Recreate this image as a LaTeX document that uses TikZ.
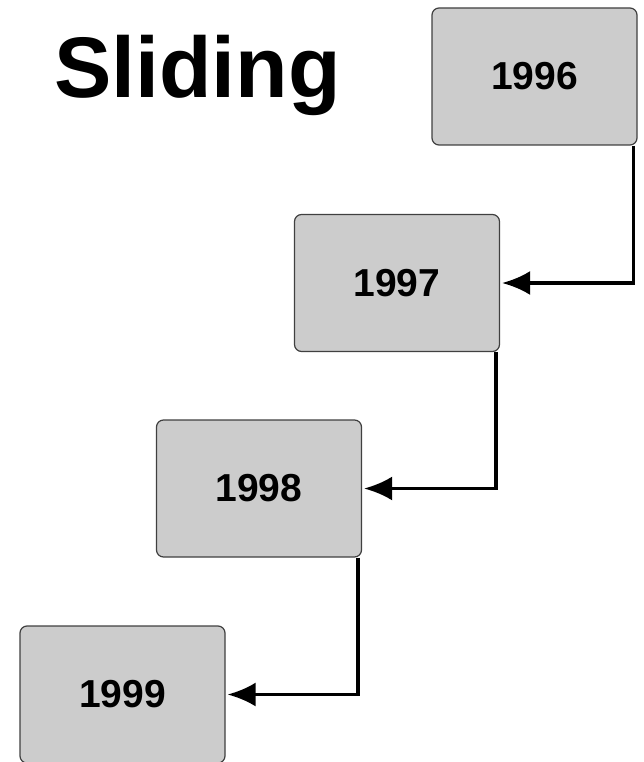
\documentclass[tikz,border=0pt]{standalone}
\usepackage{fontspec}
\setmainfont{Liberation Sans}
\usetikzlibrary{arrows.meta}
\tikzset{
  jahr/.style={draw=black!75, line width=1.2pt, fill=black!20, rounded corners=7pt,
    minimum width=205pt, minimum height=137pt, inner sep=0pt,
    font=\fontsize{39}{39}\selectfont\bfseries},
  folge/.style={line width=3.5pt, shorten >=2pt, -{Latex[length=28pt,width=24pt]}}
}
\begin{document}
\begin{tikzpicture}[x=1pt, y=-1pt]
            \useasboundingbox (0,0) rectangle (644,762);
            % Titel
            \node [anchor=base west, inner sep=0pt, font=\fontsize{86}{86}\selectfont\bfseries] (titel) at (54,98) {Sliding};
            % Jahre
            \node [jahr] (y96) at (534.5, 76.5) {1996};
            \node [jahr] (y97) at (397,  283)   {1997};
            \node [jahr] (y98) at (259,  488.5) {1998};
            \node [jahr] (y99) at (122.5,694.5) {1999};
            % Pfeile
            \draw [folge] ([xshift=-4pt]y96.south east) |- (y97.east);
            \draw [folge] ([xshift=-4pt]y97.south east) |- (y98.east);
            \draw [folge] ([xshift=-4pt]y98.south east) |- (y99.east);
        \end{tikzpicture}
\end{document}
